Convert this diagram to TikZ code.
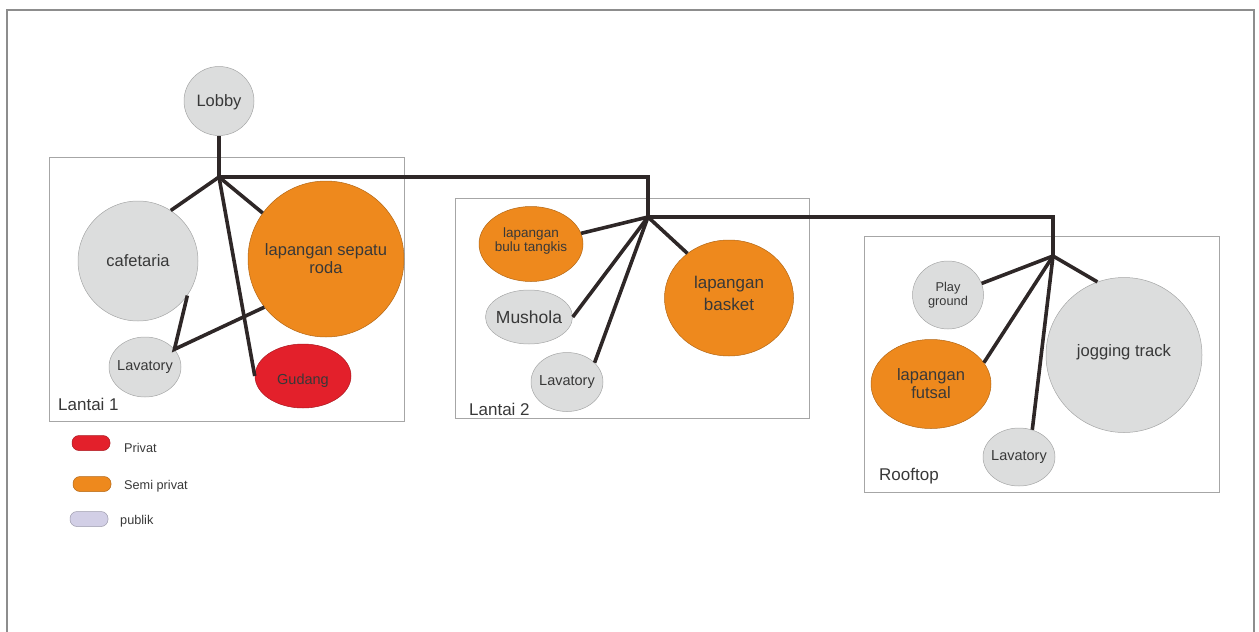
\documentclass[tikz,border=0pt]{standalone}
\usepackage{fontspec}
\setmainfont{Liberation Sans}
\usetikzlibrary{shapes.geometric}
\definecolor{pubgray}{HTML}{DCDDDD}
\definecolor{semior}{HTML}{EE891D}
\definecolor{privred}{HTML}{E3202B}
\definecolor{keypub}{HTML}{D2CFE6}
\definecolor{linkdark}{HTML}{2E2727}
\definecolor{txtgray}{HTML}{383838}
\definecolor{framegray}{HTML}{A6A6A6}
\newcommand{\fsz}[2]{\fontsize{#1}{#2}\selectfont}

\begin{document}
\begin{tikzpicture}[x=1pt, y=-1pt,
    room/.style={ellipse, draw=#1!75!black, line width=0.5pt, fill=#1, inner sep=0pt},
    rtxt/.style={text=txtgray, align=center, inner sep=0pt},
    link/.style={draw=linkdark, line width=3.6pt},
    zone/.style={draw=framegray, line width=0.9pt},
    key/.style={rectangle, rounded corners=7pt, draw=#1!75!black, line width=0.5pt, fill=#1, minimum width=38pt, minimum height=15pt},
    keytxt/.style={text=txtgray, font=\fsz{12.7}{14}, inner sep=0pt, anchor=base west}
]
\useasboundingbox (0,0) rectangle (1259,632);
\draw[draw=framegray!85!black, line width=1.3pt] (7,632) -- (7,10) -- (1254,10) -- (1254,632);

\draw[zone] (49,157) rectangle (404,421);
\draw[zone] (455,198) rectangle (809,418);
\draw[zone] (864,236) rectangle (1219,492);
\node[rtxt, font=\fsz{17}{18}, anchor=base west] (lt1) at (58,410) {Lantai 1};
\node[rtxt, font=\fsz{17}{18}, anchor=base west] (lt2) at (469,415) {Lantai 2};
\node[rtxt, font=\fsz{17}{18}, anchor=base west] (roof) at (879,480) {Rooftop};

\node[room=pubgray, minimum width=70pt, minimum height=69pt,
  label={[rtxt, font=\fsz{16.5}{18}, yshift=-1.5pt]center:Lobby}] (lobby) at (219,101) {};

\node[room=pubgray, minimum width=120pt, minimum height=120pt,
  label={[rtxt, font=\fsz{16.5}{18}]center:cafetaria}] (caf) at (138,261) {};
\node[room=semior, minimum width=156pt, minimum height=156pt,
  label={[rtxt, font=\fsz{16.5}{18}]center:lapangan sepatu\\roda}] (spr) at (326,259) {};
\node[room=pubgray, minimum width=72pt, minimum height=60pt,
  label={[rtxt, font=\fsz{14.5}{16}]center:Lavatory}] (lav1) at (145,367) {};
\node[room=privred, minimum width=96pt, minimum height=64pt,
  label={[rtxt, font=\fsz{14.5}{16}, yshift=-5pt]center:Gudang}] (gud) at (303,376) {};

\node[room=semior, minimum width=104pt, minimum height=75pt,
  label={[rtxt, font=\fsz{13.5}{14}, yshift=3pt]center:lapangan\\bulu tangkis}] (bul) at (531,244) {};
\node[room=pubgray, minimum width=87pt, minimum height=54pt,
  label={[rtxt, font=\fsz{17.5}{18}]center:Mushola}] (mus) at (529,317) {};
\node[room=pubgray, minimum width=72pt, minimum height=59pt,
  label={[rtxt, font=\fsz{14.5}{16}]center:Lavatory}] (lav2) at (567,382) {};
\node[room=semior, minimum width=129pt, minimum height=116pt,
  label={[rtxt, font=\fsz{17}{22}, yshift=5pt]center:lapangan\\basket}] (bask) at (729,298) {};

\node[room=pubgray, minimum width=71pt, minimum height=68pt,
  label={[rtxt, font=\fsz{12.8}{13.5}]center:Play\\ground}] (play) at (948,295) {};
\node[room=semior, minimum width=120pt, minimum height=89pt,
  label={[rtxt, font=\fsz{16.5}{18}]center:lapangan\\futsal}] (fut) at (931,384) {};
\node[room=pubgray, minimum width=72pt, minimum height=58pt,
  label={[rtxt, font=\fsz{14.5}{16}]center:Lavatory}] (lav3) at (1019,457) {};
\node[room=pubgray, minimum width=156pt, minimum height=155pt,
  label={[rtxt, font=\fsz{16.6}{18}, yshift=3pt]center:jogging track}] (jog) at (1124,355) {};

\coordinate (j1) at (219,177);
\coordinate (j2) at (648,217);
\coordinate (j3) at (1053,256);

\draw[link] (lobby.south) -- (j1) -| (j2) -| (j3);
\draw[link] (j1) -- (caf.57);
\draw[link] (j1) -- (spr.144);
\draw[link] (j1) -- (gud.west);
\draw[link] (caf.-35) -- (lav1.31) -- (spr.218);

\draw[link] (j2) -- (bul.12);
\draw[link] (j2) -- (mus.east);
\draw[link] (j2) -- (lav2.35);
\draw[link] (j2) -- (bask.133);

\draw[link] (j3) -- (play.19);
\draw[link] (j3) -- (fut.22);
\draw[link] (j3) -- (lav3.64);
\draw[link] (j3) -- (jog.110);

\node[key=privred] (kpriv) at (91,443) {};
\node[key=semior] (ksemi) at (92,484) {};
\node[key=keypub] (kpub) at (89,519) {};
\node[keytxt] (tpriv) at (124,452) {Privat};
\node[keytxt] (tsemi) at (124,489) {Semi privat};
\node[keytxt] (tpub) at (120,524) {publik};
\end{tikzpicture}
\end{document}
